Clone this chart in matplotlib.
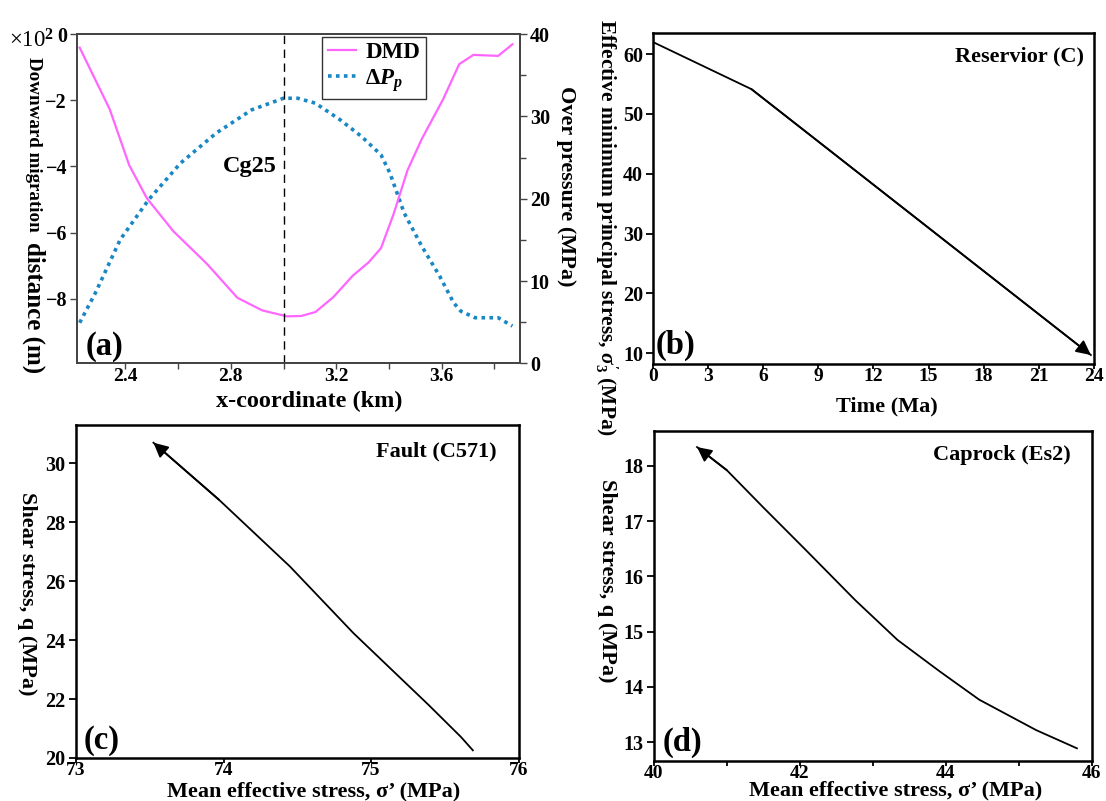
import matplotlib
matplotlib.use("Agg")
import matplotlib.pyplot as plt
from matplotlib.ticker import MultipleLocator

plt.rcParams['font.family'] = ['Liberation Serif', 'DejaVu Serif']
plt.rcParams['font.weight'] = 'bold'
plt.rcParams['axes.labelweight'] = 'bold'
plt.rcParams['mathtext.fontset'] = 'custom'
plt.rcParams['mathtext.rm'] = 'Liberation Serif:bold'
plt.rcParams['mathtext.it'] = 'Liberation Serif:italic:bold'
plt.rcParams['mathtext.bf'] = 'Liberation Serif:bold'

# (a) downward migration distance (x100 m) and overpressure along the section
x_dmd = [2.226, 2.340, 2.414, 2.481, 2.582, 2.710, 2.825, 2.919, 3.013, 3.067,
         3.121, 3.189, 3.263, 3.323, 3.370, 3.417, 3.471, 3.525, 3.606, 3.667,
         3.721, 3.815, 3.869]
dmd = [-0.41, -2.27, -3.96, -4.96, -5.96, -6.95, -7.97, -8.35, -8.53, -8.52,
       -8.40, -7.95, -7.30, -6.90, -6.47, -5.46, -4.11, -3.17, -1.97, -0.91,
       -0.63, -0.66, -0.31]
x_pp = [2.226, 2.286, 2.380, 2.488, 2.609, 2.744, 2.879, 3.000, 3.054, 3.121,
        3.215, 3.296, 3.370, 3.404, 3.458, 3.525, 3.593, 3.646, 3.673, 3.727,
        3.815, 3.869]
dpp = [4.93, 8.57, 15.03, 19.88, 24.32, 27.96, 30.79, 32.20, 32.20, 31.60,
       29.58, 27.56, 25.33, 23.11, 18.26, 14.22, 10.59, 7.35, 6.34, 5.54,
       5.54, 4.53]
well_x = 3.0

# (b) reservoir effective minimum principal stress through time
time_ma = [0.0, 5.35, 23.85]
sigma3 = [62.0, 54.15, 9.7]

# (c) fault stress path
p_fault = [75.69, 75.61, 75.39, 74.88, 74.45, 73.97, 73.525]
q_fault = [20.26, 20.71, 21.80, 24.24, 26.50, 28.76, 30.70]

# (d) caprock stress path
p_cap = [45.80, 45.24, 44.46, 43.92, 43.34, 42.76, 42.08, 41.49, 41.00, 40.59]
q_cap = [12.89, 13.22, 13.77, 14.28, 14.85, 15.57, 16.48, 17.26, 17.92, 18.34]

fig = plt.figure(figsize=(11.06, 8.01), dpi=100)
ax_a = fig.add_axes([0.0694, 0.5464, 0.4008, 0.4111])
ax_b = fig.add_axes([0.5907, 0.5456, 0.3981, 0.4129])
ax_c = fig.add_axes([0.0687, 0.0537, 0.4002, 0.4157])
ax_d = fig.add_axes([0.5913, 0.0499, 0.3956, 0.4120])

TICK = 14.5
LAB = 16


def arrow_end(ax, xs, ys):
    ax.annotate('', xy=(xs[-1], ys[-1]), xytext=(xs[-2], ys[-2]),
                arrowprops=dict(arrowstyle='-|>', color='k', lw=1.3,
                                mutation_scale=22, shrinkA=0, shrinkB=0))


def put_ylabel(ax, text, x, y, size=LAB):
    ax.set_ylabel(text, fontsize=size, rotation=270)
    ax.yaxis.set_label_coords(x, y)
    ax.yaxis.label.set_va('center')
    ax.yaxis.label.set_ha('center')


def put_xlabel(ax, text, x, y, size=LAB):
    ax.set_xlabel(text, fontsize=size)
    ax.xaxis.set_label_coords(x, y)
    ax.xaxis.label.set_va('center')


# ---- panel (a)
ax_r = ax_a.twinx()
l1, = ax_a.plot(x_dmd, dmd, color='#ff66ff', lw=1.6, label='DMD')
l2, = ax_r.plot(x_pp, dpp, color='#1a87c5', lw=2.6, ls=(0, (1, 1.2)))
ax_a.axvline(well_x, color='k', ls=(0, (6, 4)), lw=1.0)
ax_a.set_xlim(2.215, 3.898)
ax_a.set_ylim(-9.95, 0)
ax_r.set_ylim(0, 40)
ax_a.xaxis.set_major_locator(MultipleLocator(0.4))
ax_a.xaxis.set_minor_locator(MultipleLocator(0.2))
ax_a.yaxis.set_major_locator(MultipleLocator(2))
ax_r.yaxis.set_major_locator(MultipleLocator(10))
ax_r.yaxis.set_minor_locator(MultipleLocator(5))
for a in (ax_a, ax_r):
    a.tick_params(which='both', direction='out', labelsize=TICK, width=1.0,
                  color='#444444')
    a.tick_params(which='major', length=5, pad=2)
    a.tick_params(which='minor', length=4)
    for s in a.spines.values():
        s.set_color('#444444')
        s.set_linewidth(1.3)
ax_a.tick_params(axis='x', which='both', length=4, pad=-0.5, labelsize=14)
put_xlabel(ax_a, 'x-coordinate (km)', 0.524, -0.115, size=17.5)
put_ylabel(ax_r, 'Over pressure (MPa)', 1.103, 0.538)
ax_a.text(-0.098, 0.931, 'Downward migration', transform=ax_a.transAxes,
          rotation=-90, ha='center', va='top', fontsize=13.7)
ax_a.text(-0.098, -0.030, 'distance (m)', transform=ax_a.transAxes,
          rotation=-90, ha='center', va='bottom', fontsize=18)
ax_a.text(-0.152, 0.980, r'×10$^{2}$', transform=ax_a.transAxes,
          ha='left', va='center', fontsize=16.5, fontweight='normal')
ax_a.text(2.973, -3.99, 'Cg25', ha='right', va='center', fontsize=17.5)
ax_a.text(0.019, 0.005, '(a)', transform=ax_a.transAxes, fontsize=23.5,
          ha='left', va='bottom')
leg = ax_a.legend([l1, l2], ['DMD', r'$\Delta$' + r'$\mathit{P_p}$'],
                  loc='upper left', bbox_to_anchor=(0.553, 0.992),
                  fontsize=16.5, handlelength=1.25, handletextpad=0.4,
                  borderpad=0.25, labelspacing=0.15, fancybox=False,
                  framealpha=1, edgecolor='#333333', borderaxespad=0)
leg.get_frame().set_linewidth(1.0)
ax_r.set_zorder(ax_a.get_zorder() - 1)
ax_a.patch.set_visible(False)
ax_r.patch.set_visible(True)

# ---- panel (b)
ax_b.plot(time_ma, sigma3, color='k', lw=1.3)
arrow_end(ax_b, time_ma, sigma3)
ax_b.set_xlim(0, 24)
ax_b.set_ylim(8.2, 63.5)
ax_b.xaxis.set_major_locator(MultipleLocator(3))
ax_b.yaxis.set_major_locator(MultipleLocator(10))
put_xlabel(ax_b, 'Time (Ma)', 0.53, -0.13)
put_ylabel(ax_b, r'Effective minimum principal stress, $\sigma_{3}^{\prime}$ (MPa)',
           -0.107, 0.411, size=15.5)
ax_b.text(0.978, 0.96, 'Reservior (C)', transform=ax_b.transAxes,
          ha='right', va='top', fontsize=LAB)
ax_b.text(0.006, 0.008, '(b)', transform=ax_b.transAxes, fontsize=23.5,
          ha='left', va='bottom')

# ---- panel (c)
ax_c.plot(p_fault, q_fault, color='k', lw=1.3)
arrow_end(ax_c, p_fault, q_fault)
ax_c.set_xlim(73, 76)
ax_c.set_ylim(20, 31.3)
ax_c.xaxis.set_major_locator(MultipleLocator(1))
ax_c.yaxis.set_major_locator(MultipleLocator(2))
put_xlabel(ax_c, 'Mean effective stress, σ’ (MPa)', 0.538, -0.1)
put_ylabel(ax_c, 'Shear stress, q (MPa)', -0.111, 0.4925)
ax_c.text(0.95, 0.95, 'Fault (C571)', transform=ax_c.transAxes,
          ha='right', va='top', fontsize=LAB)
ax_c.text(0.018, 0.006, '(c)', transform=ax_c.transAxes, fontsize=23.5,
          ha='left', va='bottom')

# ---- panel (d)
ax_d.plot(p_cap, q_cap, color='k', lw=1.3)
arrow_end(ax_d, p_cap, q_cap)
ax_d.set_xlim(40, 46)
ax_d.set_ylim(12.66, 18.63)
ax_d.xaxis.set_major_locator(MultipleLocator(2))
ax_d.xaxis.set_minor_locator(MultipleLocator(1))
ax_d.yaxis.set_major_locator(MultipleLocator(1))
put_xlabel(ax_d, 'Mean effective stress, σ’ (MPa)', 0.552, -0.09)
put_ylabel(ax_d, 'Shear stress, q (MPa)', -0.108, 0.547)
ax_d.text(0.952, 0.958, 'Caprock (Es2)', transform=ax_d.transAxes,
          ha='right', va='top', fontsize=LAB)
ax_d.text(0.02, 0.008, '(d)', transform=ax_d.transAxes, fontsize=23.5,
          ha='left', va='bottom')

for a in (ax_b, ax_c, ax_d):
    a.tick_params(which='both', direction='out', labelsize=TICK, width=1.3)
    a.tick_params(which='major', length=5)
    a.tick_params(which='minor', length=4)
    a.tick_params(axis='y', pad=2.5)
    for s in a.spines.values():
        s.set_linewidth(1.8)
    a.tick_params(axis='x', which='both', length=3.5, pad=-0.5, labelsize=14)

fig.savefig('out.png', dpi=100)
